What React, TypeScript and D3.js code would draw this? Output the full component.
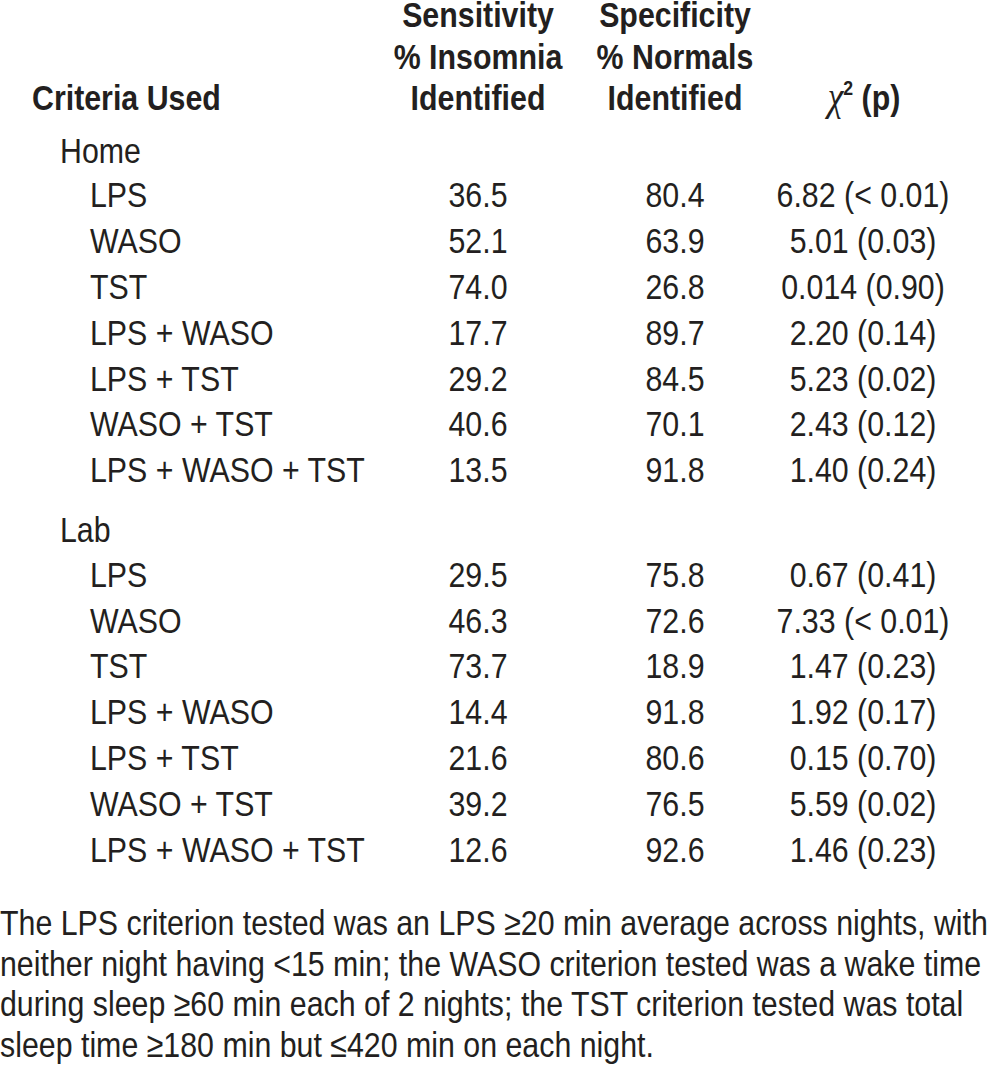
import React, { useEffect, useRef } from "react";
import * as d3 from "d3";

const criteria = ["LPS", "WASO", "TST", "LPS + WASO", "LPS + TST", "WASO + TST", "LPS + WASO + TST"];
const groups = ["Home", "Lab"];
const homeSensitivity = ["36.5", "52.1", "74.0", "17.7", "29.2", "40.6", "13.5"];
const homeSpecificity = ["80.4", "63.9", "26.8", "89.7", "84.5", "70.1", "91.8"];
const homeChi = ["6.82 (< 0.01)", "5.01 (0.03)", "0.014 (0.90)", "2.20 (0.14)", "5.23 (0.02)", "2.43 (0.12)", "1.40 (0.24)"];
const labSensitivity = ["29.5", "46.3", "73.7", "14.4", "21.6", "39.2", "12.6"];
const labSpecificity = ["75.8", "72.6", "18.9", "91.8", "80.6", "76.5", "92.6"];
const labChi = ["0.67 (0.41)", "7.33 (< 0.01)", "1.47 (0.23)", "1.92 (0.17)", "0.15 (0.70)", "5.59 (0.02)", "1.46 (0.23)"];
const header1 = ["Sensitivity", "% Insomnia", "Identified"];
const header2 = ["Specificity", "% Normals", "Identified"];
const footnote = [
  "The LPS criterion tested was an LPS \u226520 min average across nights, with",
  "neither night having <15 min; the WASO criterion tested was a wake time",
  "during sleep \u226560 min each of 2 nights; the TST criterion tested was total",
  "sleep time \u2265180 min but \u2264420 min on each night.",
];

const W = 989;
const H = 1067;
const FONT = "'Liberation Sans', Arial, sans-serif";
const COLOR = "#231f20";
const SX = 0.843;

export default function App() {
  const ref = useRef<SVGSVGElement>(null);
  useEffect(() => {
    const svg = d3.select(ref.current);
    svg.selectAll("*").remove();
    const g = svg.append("g").attr("font-family", FONT).attr("fill", COLOR).attr("font-size", 36);

    const addText = (x: number, y: number, t: string, anchor = "start", bold = false) =>
      g.append("text")
        .attr("transform", `translate(${x},${y}) scale(${SX},1)`)
        .attr("text-anchor", anchor)
        .attr("font-weight", bold ? "bold" : "normal")
        .text(t);

    const col = d3.scaleOrdinal<string, number>()
      .domain(["label", "group", "item", "sens", "spec", "chi", "chiHead"])
      .range([32, 60, 90, 478, 675, 863, 864]);
    const hy = d3.scaleLinear().domain([0, 2]).range([27, 110]);

    // header
    header1.forEach((t, i) => addText(col("sens"), hy(i), t, "middle", true));
    header2.forEach((t, i) => addText(col("spec"), hy(i), t, "middle", true));
    addText(col("label"), hy(2), "Criteria Used", "start", true);
    const chi = g.append("text")
      .attr("transform", `translate(${col("chiHead")},${hy(2)}) scale(${SX},1)`)
      .attr("text-anchor", "middle")
      .attr("font-weight", "bold");
    chi.append("tspan").attr("font-family", "'Liberation Serif', serif").attr("font-style", "italic").attr("font-weight", "normal").attr("font-size", 42).text("\u03c7");
    chi.append("tspan").attr("font-size", 21).attr("dy", -15).text("2");
    chi.append("tspan").attr("dy", 15).text(" (p)");

    // rows: slot 0 = group label, slots 1..7 = criteria
    const ry = d3.scaleLinear().domain([1, 15]).range([207.3, 848.5]);
    const groupData = [
      { name: groups[0], sens: homeSensitivity, spec: homeSpecificity, chi: homeChi, offset: 0 },
      { name: groups[1], sens: labSensitivity, spec: labSpecificity, chi: labChi, offset: 13 },
    ];
    groupData.forEach((gd, gi) => {
      const base = gi * (criteria.length + 1);
      addText(col("group"), ry(base) + gd.offset + 1, gd.name);
      criteria.forEach((c, i) => {
        const y = ry(base + i + 1) + gd.offset;
        addText(col("item"), y, c);
        addText(col("sens"), y, gd.sens[i], "middle");
        addText(col("spec"), y, gd.spec[i], "middle");
        addText(col("chi"), y, gd.chi[i], "middle");
      });
    });

    // footnote
    const fy = d3.scaleLinear().domain([0, 1]).range([935, 975.7]);
    footnote.forEach((t, i) => addText(0, fy(i), t));
  }, []);

  return (
    <svg ref={ref} width={W} height={H} style={{ position: "absolute", left: 0, top: 0, background: "#fff" }} />
  );
}
